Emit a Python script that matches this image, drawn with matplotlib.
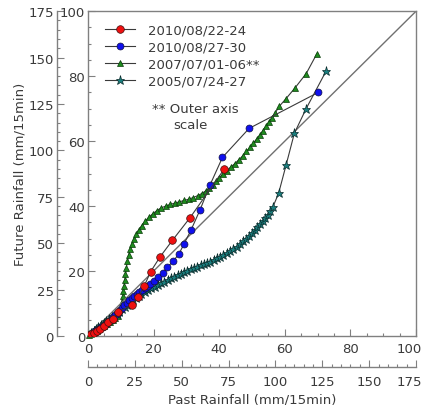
import matplotlib
matplotlib.use("Agg")
import matplotlib.pyplot as plt
import matplotlib.transforms as mtransforms
from matplotlib.ticker import MultipleLocator

# ---------------- data (inner scale 0-100) ----------------
red_x = [0.3, 1.0, 1.8, 2.7, 3.7, 5.0, 6.2, 7.7, 9.2, 13.3, 15.3, 17.2, 19.1, 22.0, 25.7, 31.1, 41.6]
red_y = [0.2, 0.6, 1.0, 1.4, 2.0, 3.2, 4.2, 5.2, 7.3, 9.6, 11.9, 15.5, 19.8, 24.4, 29.4, 36.4, 51.5]

blue_x = [0.3, 0.8, 1.4, 2.0, 2.7, 3.4, 4.1, 4.8, 5.5, 6.2, 6.9, 7.6, 8.3, 9.0, 9.7, 10.4, 11.1, 11.8,
          12.5, 13.3, 14.1, 14.9, 15.7, 16.5, 17.4, 18.2, 18.9, 20.1, 21.4, 22.8, 24.2, 26.0, 27.7, 29.3,
          31.4, 34.1, 37.2, 41.0, 49.1, 70.2]
blue_y = [0.3, 0.6, 1.0, 1.4, 1.8, 2.2, 2.7, 3.2, 3.8, 4.4, 5.0, 5.7, 6.4, 7.1, 7.9, 8.7, 9.5, 10.3,
          11.0, 11.7, 12.4, 13.0, 13.6, 14.2, 14.8, 15.4, 16.0, 17.0, 18.2, 19.3, 21.1, 23.1, 25.2, 28.4,
          32.6, 38.7, 46.5, 55.0, 63.9, 75.0]

# 2007 event is given on the outer axis scale (0-175)
green_x = [0.5, 1.4, 2.5, 3.5, 4.7, 6.0, 7.4, 8.8, 10.2, 11.7, 13.1, 14.5, 15.8, 16.8, 17.5, 18.0, 18.6,
           18.9, 19.3, 19.6, 20.0, 20.5, 21.0, 21.7, 22.6, 23.5, 24.5, 25.7, 27.1, 28.7, 30.5, 32.4, 34.5,
           36.8, 39.0, 41.5, 43.9, 46.4, 48.8, 51.3, 53.7, 56.2, 58.5, 60.6, 62.7, 64.6, 66.5, 68.3, 70.0,
           71.9, 74.0, 76.1, 78.4, 80.5, 82.6, 84.5, 86.5, 88.2, 90.0, 91.7, 93.3, 94.9, 96.4, 98.0, 99.8,
           102.0, 105.4, 110.3, 116.4, 122.0]
green_y = [0.4, 0.9, 1.6, 2.1, 2.8, 3.7, 4.7, 5.6, 6.5, 7.4, 8.4, 9.5, 11.0, 13.1, 15.8, 18.4, 21.4,
           24.2, 27.1, 30.1, 33.3, 36.8, 40.3, 43.8, 46.9, 49.7, 52.3, 54.8, 57.2, 59.5, 61.8, 63.9, 65.8,
           67.6, 69.0, 70.0, 70.9, 71.6, 72.3, 73.0, 73.7, 74.6, 75.6, 76.7, 78.1, 79.6, 81.4, 83.3, 85.2,
           87.2, 89.1, 91.0, 92.9, 95.0, 97.1, 99.4, 101.7, 104.0, 106.1, 108.3, 110.6, 112.9, 115.2, 117.4,
           120.1, 123.7, 127.6, 133.5, 141.4, 151.9]

teal_x = [0.3, 1.0, 1.7, 2.4, 3.2, 4.0, 4.8, 5.6, 6.4, 7.2, 8.0, 8.8, 9.6, 10.4, 11.2, 12.0, 12.8, 13.6,
          14.5, 15.4, 16.3, 17.3, 18.3, 19.3, 20.3, 21.3, 22.3, 23.3, 24.3, 25.3, 26.3, 27.3, 28.3, 29.3,
          30.3, 31.3, 32.3, 33.3, 34.3, 35.3, 36.3, 37.3, 38.3, 39.3, 40.3, 41.3, 42.3, 43.3, 44.3, 45.3,
          46.3, 47.2, 48.1, 49.0, 49.9, 50.8, 51.6, 52.4, 53.2, 54.0, 54.8, 55.6, 56.3, 58.1, 60.4, 62.9,
          66.5, 72.6]
teal_y = [0.3, 0.8, 1.5, 2.1, 2.7, 3.3, 3.9, 4.5, 5.1, 5.7, 6.3, 6.9, 7.5, 8.2, 8.9, 9.6, 10.3, 11.0,
          11.6, 12.3, 12.9, 13.5, 14.1, 14.7, 15.2, 15.7, 16.2, 16.7, 17.2, 17.7, 18.2, 18.7, 19.2, 19.7,
          20.1, 20.5, 20.9, 21.3, 21.7, 22.1, 22.5, 22.9, 23.4, 23.9, 24.4, 24.9, 25.5, 26.1, 26.8, 27.5,
          28.3, 29.1, 30.0, 30.9, 31.8, 32.7, 33.6, 34.5, 35.4, 36.3, 37.3, 38.4, 39.6, 43.9, 52.7, 62.4,
          70.0, 81.6]

labels = ["2010/08/22-24", "2010/08/27-30", "2007/07/01-06**", "2005/07/24-27"]
inner_ticks = [0, 20, 40, 60, 80, 100]
outer_ticks = [0, 25, 50, 75, 100, 125, 150, 175]

# ---------------- figure ----------------
plt.rcParams['font.family'] = ['DejaVu Sans']
fig = plt.figure(figsize=(4.25, 4.06), dpi=100, facecolor='white')
pos = [0.207, 0.170, 0.772, 0.800]

gray = '#808080'
txt = '#3a3a3a'
linec = '#3a3a3a'
fs = 9.5

outer = fig.add_axes(pos, zorder=0)
inner = fig.add_axes(pos, zorder=1)
inner.set_facecolor('none')

# outer axes
outer.set_xlim(0, 175)
outer.set_ylim(0, 175)
outer.spines['top'].set_visible(False)
outer.spines['right'].set_visible(False)
outer.spines['left'].set_position(('outward', 22))
outer.spines['bottom'].set_position(('outward', 22))
for s in ['left', 'bottom']:
    outer.spines[s].set_color(gray)
    outer.spines[s].set_linewidth(1.0)
outer.set_xticks(outer_ticks)
outer.set_yticks(outer_ticks)
outer.xaxis.set_minor_locator(MultipleLocator(5))
outer.yaxis.set_minor_locator(MultipleLocator(5))
outer.tick_params(which='both', direction='in', color=gray, labelcolor=txt, labelsize=fs, width=0.8)
outer.tick_params(which='major', length=5)
outer.tick_params(which='minor', length=2.5)
outer.tick_params(axis='x', which='major', pad=6)
outer.tick_params(axis='y', which='major', pad=2.5)
outer.set_xlabel("Past Rainfall (mm/15min)", fontsize=fs, color=txt, labelpad=3)
outer.set_ylabel("Future Rainfall (mm/15min)", fontsize=fs, color=txt, labelpad=1.5)

hg, = outer.plot(green_x, green_y, color=linec, lw=0.8, marker='^', ms=5,
                 mfc='#1e8c1e', mec='#0a3a0a', mew=0.5, label=labels[2], clip_on=False)

# inner axes
inner.set_xlim(0, 100)
inner.set_ylim(0, 100)
for s in inner.spines.values():
    s.set_color(gray)
    s.set_linewidth(1.0)
inner.set_xticks(inner_ticks)
inner.set_yticks(inner_ticks)
inner.xaxis.set_minor_locator(MultipleLocator(5))
inner.yaxis.set_minor_locator(MultipleLocator(5))
inner.tick_params(which='both', direction='in', color=gray, labelcolor=txt, labelsize=fs, width=0.8)
inner.tick_params(which='major', length=5)
inner.tick_params(which='minor', length=2.5)
inner.tick_params(axis='x', which='major', pad=4.5)
inner.tick_params(axis='y', which='major', pad=2)

inner.plot([0, 100], [0, 100], color='#707070', lw=1.0, zorder=1)

ht, = inner.plot(teal_x, teal_y, color=linec, lw=0.8, marker='*', ms=6.5,
                 mfc='#1a7f7f', mec='#0a2a2a', mew=0.5, label=labels[3], zorder=2)
hb, = inner.plot(blue_x, blue_y, color=linec, lw=0.8, marker='o', ms=5,
                 mfc='#1010ee', mec='#101040', mew=0.5, label=labels[1], zorder=3)
hr, = inner.plot(red_x, red_y, color=linec, lw=0.8, marker='o', ms=5.5,
                 mfc='#ee1010', mec='#401010', mew=0.5, label=labels[0], zorder=4)

leg = inner.legend([hr, hb, hg, ht], labels, loc='upper left', bbox_to_anchor=(0.035, 0.978),
                   frameon=False, fontsize=fs, handlelength=2.3, handletextpad=1.0,
                   labelspacing=0.3, borderaxespad=0.0)
for t in leg.get_texts():
    t.set_color(txt)

inner.text(0.195, 0.70, "** Outer axis", transform=inner.transAxes, fontsize=fs, color=txt,
           va='center', ha='left')
inner.text(0.259, 0.65, "scale", transform=inner.transAxes, fontsize=fs, color=txt,
           va='center', ha='left')

# keep the last x tick labels inside the figure (shifted slightly left as in the original)
fig.canvas.draw()
shift = mtransforms.ScaledTranslation(-7 / 100, 0, fig.dpi_scale_trans)
for ax in (inner, outer):
    lab = ax.get_xticklabels()[-1]
    lab.set_transform(lab.get_transform() + shift)

fig.savefig("out.png", dpi=100, facecolor='white')
